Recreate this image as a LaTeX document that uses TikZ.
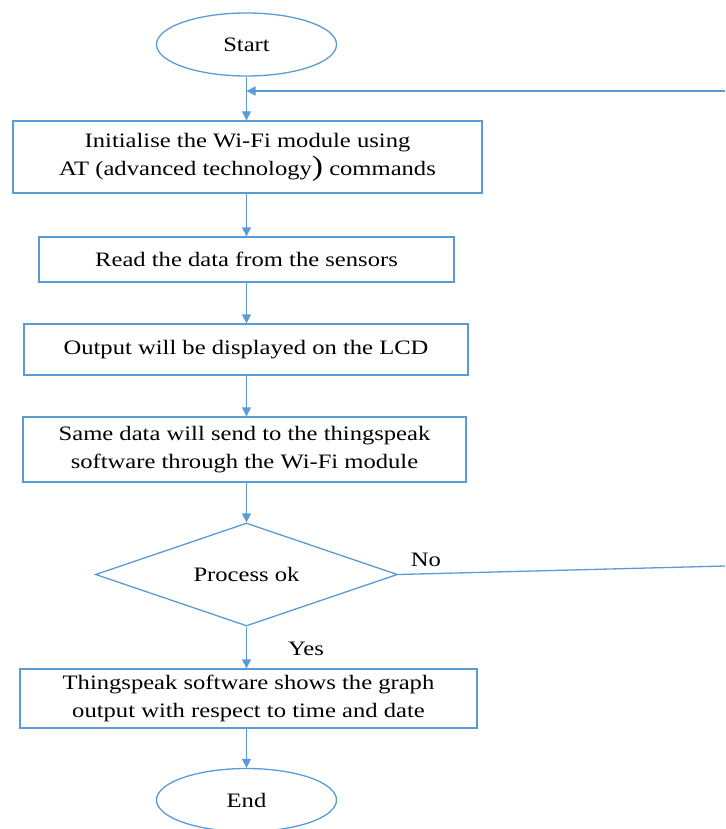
\documentclass[tikz,border=0pt]{standalone}
\usepackage{fontspec}
\setmainfont[FakeStretch=1.2]{Liberation Serif}
\usetikzlibrary{shapes.geometric,arrows.meta}
\definecolor{flowblue}{HTML}{5B9BD5}
\tikzset{
  line/.style={draw=flowblue, line width=1.3pt},
  arr/.style={line, -{Triangle[length=9pt,width=9pt]}},
  procbox/.style={draw=flowblue, line width=1.3pt, rectangle, inner sep=0pt, align=center,
     font=\fontsize{20.5}{28}\selectfont},
  term/.style={draw=flowblue, line width=1.3pt, ellipse, inner sep=0pt,
     minimum width=180pt, minimum height=63pt, font=\fontsize{20.5}{28}\selectfont},
  decision/.style={draw=flowblue, line width=1.3pt, diamond, aspect=3, inner sep=0pt,
     minimum width=302pt, minimum height=103pt, font=\fontsize{20.5}{28}\selectfont},
  lbl/.style={font=\fontsize{20.5}{28}\selectfont, inner sep=0pt}
}
\begin{document}
\begin{tikzpicture}[x=1pt,y=-1pt]
\useasboundingbox (0,0) rectangle (725,829);
\node[term] (start) at (246.5,44.5) {Start};
\node[procbox, minimum width=469pt, minimum height=72pt] (b1) at (247.5,157)
  {Initialise the Wi-Fi module using\\AT (advanced technology{\fontsize{28}{28}\selectfont)} commands};
\node[procbox, minimum width=415pt, minimum height=45pt] (b2) at (246.5,259.5)
  {Read the data from the sensors};
\node[procbox, minimum width=444pt, minimum height=51pt] (b3) at (246,349.5)
  {Output will be displayed on the LCD};
\node[procbox, minimum width=443pt, minimum height=65pt] (b4) at (244.5,449.5)
  {Same data will send to the thingspeak\\software through the Wi-Fi module};
\node[decision] (dec) at (246.5,574.5) {Process ok};
\node[procbox, minimum width=457pt, minimum height=59pt] (b5) at (248.5,698.5)
  {Thingspeak software shows the graph\\output with respect to time and date};
\node[term] (stop) at (246.5,800) {End};
\node[lbl] (no) at (426,560) {No};
\node[lbl] (yes) at (306,649) {Yes};
\coordinate (loopin) at (725,91);
\coordinate (noend) at (725,566);

\draw[arr] (start.south) -- (start.south |- b1.north);
\draw[arr] (loopin) -- (start.south |- loopin);
\draw[arr] (start.south |- b1.south) -- (start.south |- b2.north);
\draw[arr] (start.south |- b2.south) -- (start.south |- b3.north);
\draw[arr] (start.south |- b3.south) -- (start.south |- b4.north);
\draw[arr] (start.south |- b4.south) -- (dec.north);
\draw[line] (dec.east) -- (noend);
\draw[arr] (dec.south) -- (dec.south |- b5.north);
\draw[arr] (dec.south |- b5.south) -- (stop.north);
\end{tikzpicture}
\end{document}
